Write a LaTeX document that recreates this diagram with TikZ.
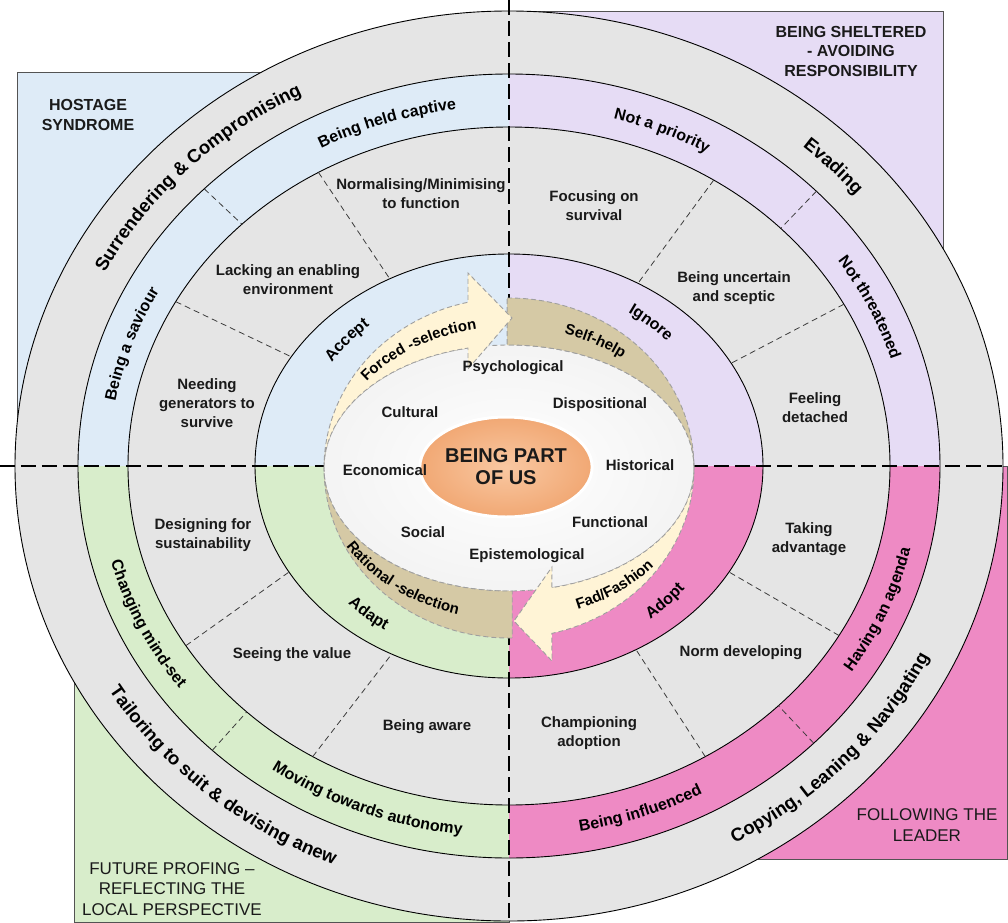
\documentclass[tikz,border=0pt]{standalone}
\usepackage{fontspec}
\setmainfont{Liberation Sans}
\usetikzlibrary{shapes.geometric,decorations.text}

\definecolor{ink}{HTML}{1A1A1A}
\definecolor{qblue}{HTML}{DEEBF7}
\definecolor{qlilac}{HTML}{E6DCF5}
\definecolor{qgreen}{HTML}{D8EDCB}
\definecolor{qpink}{HTML}{EE8AC4}
\definecolor{ringgray}{HTML}{E5E5E5}
\definecolor{cream}{HTML}{FFF4D6}
\definecolor{bandtan}{HTML}{D5C9A5}
\definecolor{core1}{HTML}{F9C8A2}
\definecolor{core2}{HTML}{F1A874}

\newcommand\lblfont{\bfseries\fontsize{15}{19}\selectfont}
\newcommand\ringfont{\bfseries\fontsize{16}{18}\selectfont}
\newcommand\bigfont{\bfseries\fontsize{18.5}{20}\selectfont}
\newcommand\arrfont{\bfseries\fontsize{15}{17}\selectfont}
\newcommand\titlefont{\bfseries\fontsize{16}{19.5}\selectfont}
\newcommand\lowtitlefont{\fontsize{17}{20.5}\selectfont}

% text along an elliptic arc: centre angle, half span, x radius, y radius, text
\newcommand\cwtext[5]{\path[decorate,decoration={text along path,text align=center,text={#5}}]
  ({#1+#2}:#3 and #4) arc[start angle={#1+#2},end angle={#1-#2},x radius=#3,y radius=#4];}
\newcommand\ccwtext[5]{\path[decorate,decoration={text along path,text align=center,text={#5}}]
  ({#1-#2}:#3 and #4) arc[start angle={#1-#2},end angle={#1+#2},x radius=#3,y radius=#4];}

\begin{document}
\begin{tikzpicture}[x=1pt,y=1pt,
  lbl/.style={font=\lblfont,align=center,text=ink,inner sep=0pt},
  title/.style={font=\titlefont,align=center,text=ink,inner sep=0pt},
  lowtitle/.style={font=\lowtitlefont,align=center,text=ink,inner sep=0pt},
  quad/.style={draw=ink!75,line width=0.8pt},
  rim/.style={draw=black,line width=0.9pt},
  divider/.style={draw=ink!85,line width=0.8pt,dash pattern=on 6pt off 4pt},
  axis/.style={draw=black,line width=2.2pt,dash pattern=on 15pt off 6pt},
  band/.style={draw=gray!75,line width=0.9pt,dash pattern=on 5pt off 3pt},
  core/.style={ellipse,minimum width=138pt,minimum height=100pt,inner sep=0pt,
    draw=white,line width=3pt,inner color=core1,outer color=core2,
    font=\bfseries\fontsize{20}{22}\selectfont,align=center,text=ink}]
\useasboundingbox (-509,-456) rectangle (499,466);

% quadrant backgrounds
\draw[quad,fill=qblue] (-492,0) rectangle (0,394);
\draw[quad,fill=qlilac] (0,0) rectangle (434,455);
\draw[quad,fill=qgreen] (-435,-456) rectangle (0,0);
\draw[quad,fill=qpink] (0,-393) rectangle (498,0);

% rings
\fill[ringgray] (0,0) ellipse[x radius=494,y radius=455];
\foreach \a/\c in {0/qlilac,90/qblue,180/qgreen,270/qpink}
  \fill[\c] (0,0) -- (\a:431 and 392) arc[start angle=\a,end angle=\a+90,x radius=431,y radius=392] -- cycle;
\fill[ringgray] (0,0) ellipse[x radius=381,y radius=339];
\foreach \a/\c in {0/qlilac,90/qblue,180/qgreen,270/qpink}
  \fill[\c] (0,0) -- (\a:254 and 212) arc[start angle=\a,end angle=\a+90,x radius=254,y radius=212] -- cycle;
\foreach \r/\s in {494/455,431/392,381/339,254/212}
  \draw[rim] (0,0) ellipse[x radius=\r,y radius=\s];

% dividers
\foreach \o/\i in {120/118,151/149,57.5/59.5,28.5/29,212/210,239/242.5,330/330,301/300}
  \draw[divider] (\o:381 and 339) -- (\i:254 and 212);
\foreach \o/\i in {135/134.5,44.5/44.5,226.5/226.5,315/315}
  \draw[divider] (\o:431 and 392) -- (\i:381 and 339);

% axes
\draw[axis] (0,466) -- (0,-456);
\draw[axis] (-509,0) -- (499,0);

% arrow ring
\begin{scope}[shift={(0,-2)}]
  \shade[inner color=white,outer color=gray!9] (0,0) ellipse[x radius=185,y radius=123];
  \draw[band] (0,0) ellipse[x radius=185,y radius=123];
  \filldraw[band,fill=bandtan] (90.6:185 and 170) arc[start angle=90.6,end angle=0,x radius=185,y radius=170]
    arc[start angle=0,end angle=90.6,x radius=185,y radius=123] -- cycle;
  \filldraw[band,fill=bandtan] (-89:185 and 170) arc[start angle=-89,end angle=-180,x radius=185,y radius=170]
    arc[start angle=180,end angle=271,x radius=185,y radius=123] -- cycle;
  \filldraw[band,fill=cream] (180:185 and 170) arc[start angle=180,end angle=102.8,x radius=185,y radius=170]
    -- (-41,195) -- (3,150) -- (-41,99) -- (102.8:185 and 123)
    arc[start angle=102.8,end angle=180,x radius=185,y radius=123] -- cycle;
  \filldraw[band,fill=cream] (0:185 and 170) arc[start angle=0,end angle=-76.6,x radius=185,y radius=170]
    -- (43,-193) -- (5,-153) -- (43,-99) -- (-76.6:185 and 123)
    arc[start angle=-76.6,end angle=0,x radius=185,y radius=123] -- cycle;
  \cwtext{123}{40}{180}{141}{|\arrfont|Forced -selection}
  \cwtext{60}{35}{180}{141}{|\arrfont|Self-help}
  \ccwtext{231}{40}{190}{152}{|\arrfont|Rational -selection}
  \ccwtext{307}{35}{190}{152}{|\arrfont|Fad/Fashion}
\end{scope}

% centre
\node[core] (core) at (-3,-1) {BEING PART\\OF US};
\node[lbl] (psy) at (4,98) {Psychological};
\node[lbl] (cult) at (-99,54) {Cultural};
\node[lbl] (disp) at (91,61) {Dispositional};
\node[lbl] (econ) at (-124,-4) {Economical};
\node[lbl] (hist) at (131,1) {Historical};
\node[lbl] (soc) at (-86,-66) {Social};
\node[lbl] (func) at (101,-56) {Functional};
\node[lbl] (epis) at (18,-90) {Epistemological};

% inner ring words
\cwtext{139.3}{30}{213.5}{185}{|\ringfont|Accept}
\cwtext{48.2}{30}{213.5}{185}{|\ringfont|Ignore}
\ccwtext{229.6}{30}{225.5}{197}{|\ringfont|Adapt}
\ccwtext{316}{30}{225.5}{197}{|\ringfont|Adopt}

% grey ring labels
\node[lbl] (normal) at (-88,272) {Normalising/Minimising\\to function};
\node[lbl] (lacking) at (-221,186) {Lacking an enabling\\environment};
\node[lbl] (needing) at (-302,63) {Needing\\generators to\\survive};
\node[lbl] (focus) at (85,260) {Focusing on\\survival};
\node[lbl] (uncert) at (225,178) {Being uncertain\\and sceptic};
\node[lbl] (detach) at (306,58) {Feeling\\detached};
\node[lbl] (design) at (-306,-69) {Designing for\\sustainability};
\node[lbl] (value) at (-217,-189) {Seeing the value};
\node[lbl] (aware) at (-82,-261) {Being aware};
\node[lbl] (taking) at (300,-73) {Taking\\advantage};
\node[lbl] (norm) at (232,-187) {Norm developing};
\node[lbl] (champ) at (80,-267) {Championing\\adoption};

% coloured ring labels
\cwtext{108.3}{35}{400}{360}{|\ringfont|Being held captive}
\cwtext{160.9}{35}{400}{360}{|\ringfont|Being a saviour}
\cwtext{67}{35}{400}{360}{|\ringfont|Not a priority}
\cwtext{25.2}{35}{400}{360}{|\ringfont|Not threatened}
\ccwtext{205.2}{35}{412}{371}{|\ringfont|Changing mind-set}
\ccwtext{248.6}{35}{412}{371}{|\ringfont|Moving towards autonomy}
\ccwtext{289.5}{35}{412}{371}{|\ringfont|Being influenced}
\ccwtext{337.3}{35}{412}{371}{|\ringfont|Having an agenda}

% outer ring labels
\cwtext{135.5}{40}{456}{417}{|\bigfont|Surrendering {\&} Compromising}
\cwtext{44.6}{30}{456}{417}{|\bigfont|Evading}
\ccwtext{229}{40}{469}{430}{|\bigfont|Tailoring to suit {\&} devising anew}
\ccwtext{317}{40}{469}{430}{|\bigfont|Copying, Leaning {\&} Navigating}

% quadrant titles
\node[title] (hostage) at (-421,351) {HOSTAGE\\SYNDROME};
\node[title] (shelter) at (342,415) {BEING SHELTERED\\- AVOIDING\\RESPONSIBILITY};
\node[lowtitle] (follow) at (418,-359) {FOLLOWING THE\\LEADER};
\node[lowtitle] (future) at (-337,-423) {FUTURE PROFING --\\REFLECTING THE\\LOCAL PERSPECTIVE};
\end{tikzpicture}
\end{document}
